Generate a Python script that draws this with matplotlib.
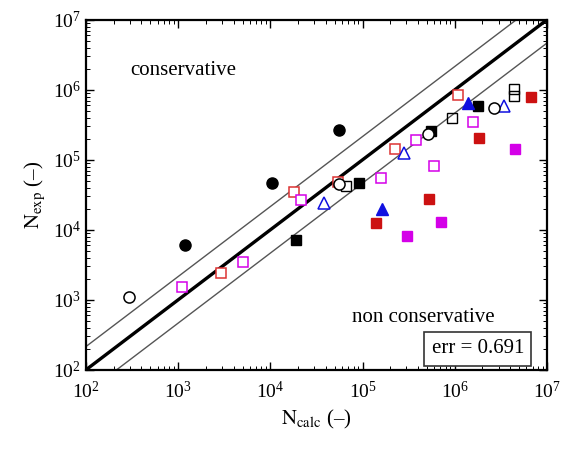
import numpy as np
import matplotlib
matplotlib.use("Agg")
import matplotlib.pyplot as plt
from matplotlib.ticker import LogLocator, NullFormatter

plt.rcParams['font.family'] = ['Liberation Serif', 'DejaVu Serif']
plt.rcParams['mathtext.fontset'] = 'stix'

# (N_calc, N_exp)
black_filled_circle_x = [1190, 10500, 55900]
black_filled_circle_y = [6100, 46900, 268000]
black_open_circle_x = [295, 55900, 508000, 2.64e6]
black_open_circle_y = [1090, 45000, 233000, 558000]
black_open_square_x = [66100, 925000, 4.42e6, 4.42e6]
black_open_square_y = [43000, 402000, 1.03e6, 820000]
black_filled_square_x = [18800, 90700, 547000, 1.77e6]
black_filled_square_y = [7200, 46400, 260000, 590000]
red_open_square_x = [2890, 18000, 53700, 224000, 1.09e6]
red_open_square_y = [2400, 34600, 49000, 142000, 849000]
red_filled_square_x = [140000, 525000, 1.85e6, 6.65e6]
red_filled_square_y = [12700, 27400, 204000, 802000]
mag_open_square_x = [1090, 5080, 21300, 157000, 377000, 590000, 1.59e6]
mag_open_square_y = [1520, 3520, 26800, 55800, 193000, 82000, 352000]
mag_filled_square_x = [305000, 703000, 4.5e6]
mag_filled_square_y = [8200, 13100, 142000]
blue_open_tri_x = [38100, 283000, 3.44e6]
blue_open_tri_y = [24000, 125000, 597000]
blue_filled_tri_x = [161000, 1.38e6]
blue_filled_tri_y = [19800, 645000]

band_factor = 2.15
err_value = 0.691

fig = plt.figure(figsize=(5.65, 4.5), dpi=100)
ax = fig.add_axes([0.152, 0.178, 0.816, 0.778])

line = np.array([1e2, 1e7])
ax.plot(line, line, color='black', lw=2.4, zorder=2)
ax.plot(line, line * band_factor, color='#555555', lw=1.0, zorder=2)
ax.plot(line, line / band_factor, color='#555555', lw=1.0, zorder=2)

red = '#cc1111'
mag = '#d400e8'
blue = '#1010e0'
ax.plot(red_open_square_x, red_open_square_y, 's', ms=6.5, mfc='white', mec='#dd3333', mew=1.1, ls='none', zorder=3)
ax.plot(mag_open_square_x, mag_open_square_y, 's', ms=6.5, mfc='white', mec=mag, mew=1.1, ls='none', zorder=3)
ax.plot(black_open_square_x, black_open_square_y, 's', ms=6.5, mfc='none', mec='black', mew=1.0, ls='none', zorder=3)
ax.plot(black_filled_square_x, black_filled_square_y, 's', ms=6.5, color='black', ls='none', zorder=3)
ax.plot(red_filled_square_x, red_filled_square_y, 's', ms=6.5, color=red, ls='none', zorder=3)
ax.plot(mag_filled_square_x, mag_filled_square_y, 's', ms=6.5, color=mag, ls='none', zorder=3)
ax.plot(blue_open_tri_x, blue_open_tri_y, '^', ms=8, mfc='white', mec=blue, mew=1.1, ls='none', zorder=3)
ax.plot(blue_filled_tri_x, blue_filled_tri_y, '^', ms=8, color=blue, ls='none', zorder=3)
ax.plot(black_open_circle_x, black_open_circle_y, 'o', ms=8, mfc='white', mec='black', mew=1.1, ls='none', zorder=4)
ax.plot(black_filled_circle_x, black_filled_circle_y, 'o', ms=8, color='black', ls='none', zorder=4)

ax.set_xscale('log')
ax.set_yscale('log')
ax.set_xlim(1e2, 1e7)
ax.set_ylim(1e2, 1e7)
for a in (ax.xaxis, ax.yaxis):
    a.set_major_locator(LogLocator(base=10, numticks=10))
    a.set_minor_locator(LogLocator(base=10, subs=np.arange(2, 10), numticks=10))
    a.set_minor_formatter(NullFormatter())
ax.tick_params(which='both', direction='in', top=True, right=True, labelsize=14)
ax.tick_params(which='major', length=6, width=1.0)
ax.tick_params(which='minor', length=3, width=0.7)
ax.tick_params(axis='x', pad=8)
for s in ax.spines.values():
    s.set_linewidth(1.6)

ax.text(0.211, 0.854, 'conservative', transform=ax.transAxes, fontsize=15, ha='center', va='center')
ax.text(0.732, 0.151, 'non conservative', transform=ax.transAxes, fontsize=15, ha='center', va='center')
ax.text(0.85, 0.06, 'err = %.3f' % err_value, transform=ax.transAxes, fontsize=15,
        ha='center', va='center',
        bbox=dict(boxstyle='square,pad=0.35', fc='white', ec='#333333', lw=1.2))

ax.set_xlabel(r'$\mathrm{N_{calc}}$ (–)', fontsize=15)
ax.set_ylabel(r'$\mathrm{N_{exp}}$ (–)', fontsize=15)

fig.savefig('out.png', dpi=100)
